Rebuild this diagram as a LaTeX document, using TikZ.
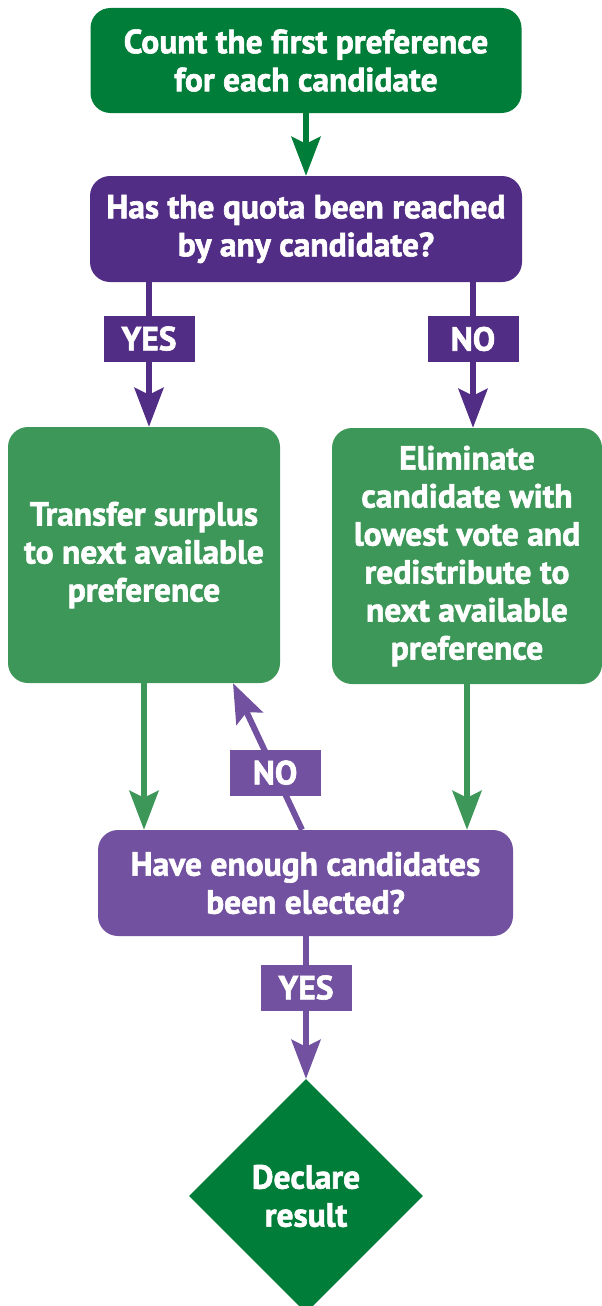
\documentclass[tikz,border=0pt]{standalone}
\usepackage{fontspec}
\setmainfont{PT Sans}[BoldFeatures={FakeBold=1.8}]
\usetikzlibrary{arrows.meta,shapes.geometric,calc}
\definecolor{dgreen}{RGB}{0,125,56}
\definecolor{mgreen}{RGB}{61,151,89}
\definecolor{dpurple}{RGB}{82,45,133}
\definecolor{lpurple}{RGB}{114,82,160}
\tikzset{
  boxtxt/.style={text=white, font=\bfseries\fontsize{33.5}{38}\selectfont, align=center, inner sep=0pt},
  stepbox/.style={boxtxt, rounded corners=20pt},
  tagbox/.style={boxtxt, minimum width=91pt, minimum height=46pt},
  conn/.style={line width=6pt, -{Stealth[length=39pt, width=29pt, inset=7pt]}},
}
\begin{document}
\begin{tikzpicture}[x=1pt,y=-1pt]
\useasboundingbox (0,0) rectangle (602,1306);
% boxes
\node[stepbox, fill=dgreen, minimum width=431pt, minimum height=105pt] (count) at (306,60.5)
  {Count the first preference\\for each candidate};
\node[stepbox, fill=dpurple, minimum width=432pt, minimum height=106pt] (quota) at (306,229)
  {Has the quota been reached\\by any candidate?};
\node[stepbox, fill=mgreen, minimum width=272pt, minimum height=256pt] (transfer) at (144,555)
  {Transfer surplus\\to next available\\preference};
\node[stepbox, fill=mgreen, minimum width=270pt, minimum height=256pt] (elim) at (467,556)
  {Eliminate\\candidate with\\lowest vote and\\redistribute to\\next available\\preference};
\node[stepbox, fill=lpurple, minimum width=415pt, minimum height=106pt] (enough) at (305.5,883)
  {Have enough candidates\\been elected?};
\node[boxtxt, diamond, fill=dgreen, minimum width=234pt, minimum height=234pt] (declare) at (306,1196)
  {Declare\\result};
% helper coordinates for connector columns
\coordinate (yescol) at (149,0);
\coordinate (nocol) at (473,0);
\coordinate (backfrom) at (302,0);
\coordinate (backto) at (233,0);
% connectors
\draw[conn, dgreen] (count.south) -- (quota.north);
\draw[conn, dpurple] (quota.south -| yescol) -- node[tagbox, fill=dpurple, pos=0.39] (yes1) {YES} (transfer.north -| yescol);
\draw[conn, dpurple] (quota.south -| nocol) -- node[tagbox, fill=dpurple, pos=0.39] (no1) {NO} (elim.north -| nocol);
\draw[conn, mgreen] (transfer.south) -- (transfer.south |- enough.north);
\draw[conn, mgreen] (elim.south) -- (elim.south |- enough.north);
\draw[conn, lpurple] (enough.north -| backfrom) -- node[tagbox, fill=lpurple, pos=0.39] (no2) {NO} (transfer.south -| backto);
\draw[conn, lpurple] (enough.south -| declare.north) -- node[tagbox, fill=lpurple, pos=0.36] (yes2) {YES} (declare.north);
\end{tikzpicture}
\end{document}
